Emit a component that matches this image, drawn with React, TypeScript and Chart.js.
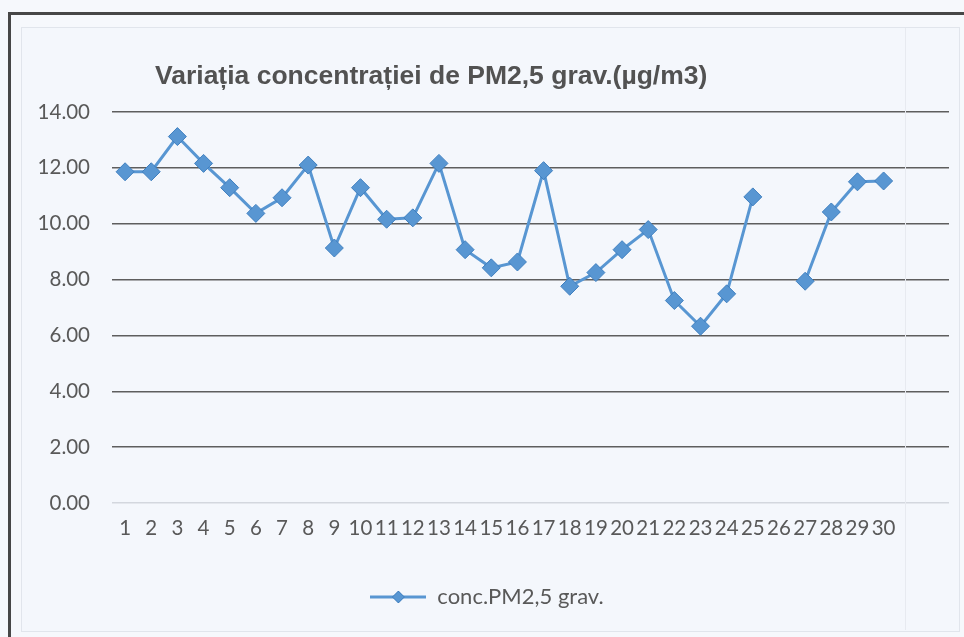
import React, { useEffect, useRef } from 'react';
import { Chart, registerables } from 'chart.js';

Chart.register(...registerables);

const chartTitle = 'Variația concentrației de PM2,5 grav.(µg/m3)';
const seriesName = 'conc.PM2,5 grav.';
const days = ['1', '2', '3', '4', '5', '6', '7', '8', '9', '10', '11', '12', '13', '14', '15', '16', '17', '18', '19', '20', '21', '22', '23', '24', '25', '26', '27', '28', '29', '30', '', ''];
const concentrations: (number | null)[] = [11.86, 11.86, 13.12, 12.16, 11.29, 10.37, 10.93, 12.1, 9.13, 11.29, 10.16, 10.21, 12.16, 9.07, 8.42, 8.63, 11.9, 7.76, 8.25, 9.07, 9.79, 7.25, 6.33, 7.49, 10.96, null, 7.94, 10.42, 11.5, 11.53, null, null];
const yTicks = [0, 2, 4, 6, 8, 10, 12, 14];

const LINE = '#5896d2';
const POINT_FILL = '#5896d2';
const POINT_BORDER = '#3f7fbf';
const TEXT = '#595959';
const FONT = 'Lato, "Open Sans", sans-serif';

const CANVAS_W = 937;
const CANVAS_H = 603;

const titlePlugin = {
  id: 'customTitle',
  afterDraw(chart: any) {
    const ctx = chart.ctx;
    ctx.save();
    ctx.font = 'bold 26.5px "Liberation Sans", Arial, sans-serif';
    ctx.fillStyle = '#525252';
    ctx.textAlign = 'left';
    ctx.textBaseline = 'middle';
    ctx.fillText(chartTitle, chart.chartArea.left + 43, 49);
    ctx.restore();
  },
};

export default function App() {
  const ref = useRef<HTMLCanvasElement>(null);

  useEffect(() => {
    const icon = document.createElement('canvas');
    icon.width = 56;
    icon.height = 16;
    const ic = icon.getContext('2d')!;
    ic.strokeStyle = LINE;
    ic.lineWidth = 3;
    ic.beginPath();
    ic.moveTo(0, 8);
    ic.lineTo(56, 8);
    ic.stroke();
    ic.fillStyle = POINT_FILL;
    ic.strokeStyle = POINT_BORDER;
    ic.lineWidth = 1;
    ic.beginPath();
    ic.moveTo(28, 2);
    ic.lineTo(34, 8);
    ic.lineTo(28, 14);
    ic.lineTo(22, 8);
    ic.closePath();
    ic.fill();
    ic.stroke();

    const chart = new Chart(ref.current!, {
      type: 'line',
      data: {
        labels: days,
        datasets: [
          {
            label: seriesName,
            data: concentrations,
            borderColor: LINE,
            backgroundColor: POINT_FILL,
            borderWidth: 3,
            pointStyle: 'rectRot',
            pointRadius: 9,
            pointBackgroundColor: POINT_FILL,
            pointBorderColor: POINT_BORDER,
            pointBorderWidth: 1,
            spanGaps: false,
            tension: 0,
          },
        ],
      },
      options: {
        responsive: false,
        animation: false,
        layout: { padding: { top: 84, left: 0, right: 7, bottom: 13 } },
        scales: {
          x: {
            type: 'category',
            offset: true,
            grid: { display: false, drawTicks: false },
            border: { display: false },
            ticks: {
              autoSkip: false,
              maxRotation: 0,
              minRotation: 0,
              padding: 13,
              color: TEXT,
              font: { family: FONT, size: 20.5 },
            },
            afterFit: (s: any) => {
              s.height = 70;
            },
          },
          y: {
            min: 0,
            max: 14,
            afterBuildTicks: (s: any) => {
              s.ticks = yTicks.map((v) => ({ value: v }));
            },
            ticks: {
              padding: 22,
              color: TEXT,
              font: { family: FONT, size: 20.5 },
              callback: (v: any) => Number(v).toFixed(2),
            },
            grid: {
              drawTicks: false,
              lineWidth: 1.4,
              color: (c: any) => (c.tick && c.tick.value === 0 ? '#d3d7de' : '#5e5e5e'),
            },
            border: { display: false },
            afterFit: (s: any) => {
              s.width = 90;
            },
          },
        },
        plugins: {
          title: { display: false },
          tooltip: { enabled: false },
          legend: {
            display: true,
            position: 'bottom',
            labels: {
              usePointStyle: true,
              pointStyleWidth: 56,
              padding: 13,
              color: TEXT,
              font: { family: FONT, size: 22 },
              generateLabels: () => [
                {
                  text: seriesName,
                  pointStyle: icon,
                  fillStyle: POINT_FILL,
                  strokeStyle: LINE,
                  lineWidth: 0,
                  hidden: false,
                  datasetIndex: 0,
                  fontColor: TEXT,
                } as any,
              ],
            },
          },
        },
      },
      plugins: [titlePlugin],
    } as any);
    return () => chart.destroy();
  }, []);

  return (
    <div style={{ position: 'fixed', left: 0, top: 0, width: 964, height: 637, background: '#f6f8fc', overflow: 'hidden' }}>
      <div
        style={{
          position: 'absolute',
          left: 8,
          top: 12,
          width: 970,
          height: 640,
          borderLeft: '3px solid #474747',
          borderTop: '3px solid #474747',
        }}
      />
      <div
        style={{
          position: 'absolute',
          left: 21,
          top: 27,
          width: CANVAS_W,
          height: CANVAS_H,
          border: '1px solid #e1e5ec',
          background: '#f4f7fc',
        }}
      >
        <canvas ref={ref} width={CANVAS_W} height={CANVAS_H} style={{ display: 'block', width: CANVAS_W, height: CANVAS_H }} />
      </div>
      <div style={{ position: 'absolute', left: 905, top: 28, width: 1, height: 602, background: '#e7eaf0' }} />
    </div>
  );
}
